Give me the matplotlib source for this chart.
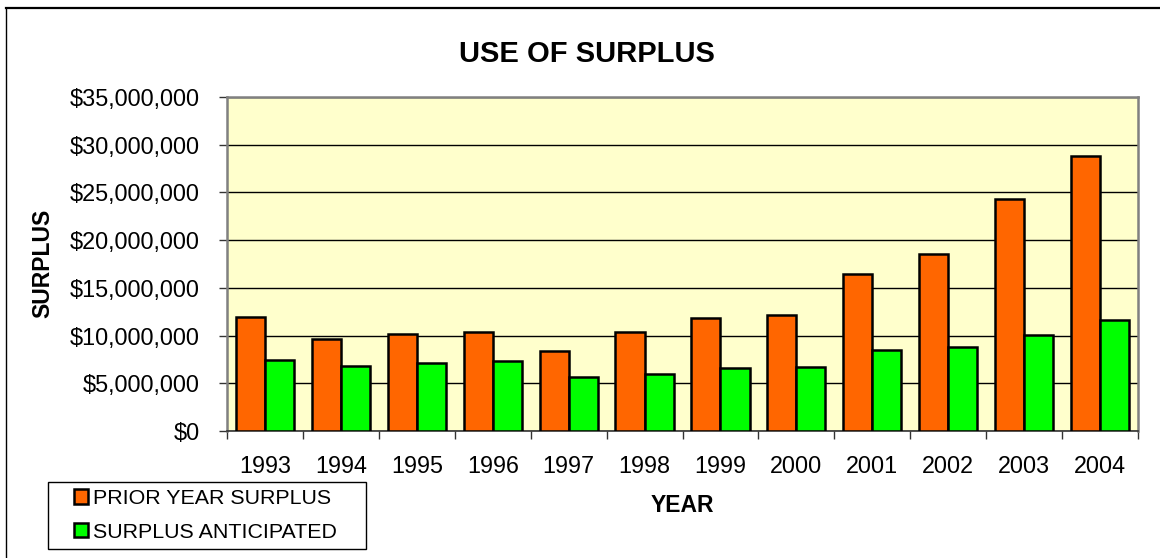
import matplotlib
matplotlib.use('Agg')
import matplotlib.pyplot as plt
from matplotlib.patches import Patch, Rectangle
from matplotlib.lines import Line2D
from matplotlib.ticker import FuncFormatter
import numpy as np

plt.rcParams['font.family'] = ['Liberation Sans', 'DejaVu Sans']

years = ['1993', '1994', '1995', '1996', '1997', '1998',
         '1999', '2000', '2001', '2002', '2003', '2004']
prior_year = [11.9e6, 9.63e6, 10.16e6, 10.4e6, 8.34e6, 10.33e6,
              11.8e6, 12.2e6, 16.4e6, 18.55e6, 24.3e6, 28.8e6]
anticipated = [7.47e6, 6.77e6, 7.15e6, 7.33e6, 5.65e6, 5.93e6,
               6.57e6, 6.75e6, 8.53e6, 8.78e6, 10.04e6, 11.58e6]
labels = ['PRIOR YEAR SURPLUS', 'SURPLUS ANTICIPATED']
colors = ['#FF6600', '#00FF00']

W, H = 1160, 558
fig = plt.figure(figsize=(11.6, 5.58), dpi=100)
ax = fig.add_axes([227 / W, 1 - 431 / H, (1138 - 227) / W, (431 - 97) / H])
ax.set_facecolor('#FFFFCC')

x = np.arange(len(years))
w = 0.383
ax.bar(x - w / 2, prior_year, w, color=colors[0], edgecolor='black', linewidth=1.8, zorder=3)
ax.bar(x + w / 2, anticipated, w, color=colors[1], edgecolor='black', linewidth=1.8, zorder=3)

ax.set_xlim(-0.5, len(years) - 0.5)
ax.set_ylim(0, 35e6)
ax.set_yticks(np.arange(0, 35e6 + 1, 5e6))
ax.yaxis.set_major_formatter(FuncFormatter(lambda v, p: '${:,.0f}'.format(v)))
ax.grid(axis='y', color='black', linewidth=1.0, zorder=1)

ax.set_xticks(x)
ax.set_xticklabels(years)
ax.set_xticks(np.arange(-0.5, len(years)), minor=True)
ax.tick_params(axis='x', which='major', length=0, pad=17.5, labelsize=16.8)
ax.tick_params(axis='x', which='minor', length=5.5, width=1, color='#333333')
ax.tick_params(axis='y', length=5.5, width=1, pad=14, labelsize=16.9, color='#333333')

for s in ['top', 'right', 'left']:
    ax.spines[s].set_color('#808080')
    ax.spines[s].set_linewidth(1.8)
ax.spines['bottom'].set_color('#333333')
ax.spines['bottom'].set_linewidth(1.2)

fig.text(586.5 / W, 1 - 54 / H, 'USE OF SURPLUS', ha='center', va='center',
         fontsize=21, fontweight='bold')
fig.text(682.5 / W, 1 - 506 / H, 'YEAR', ha='center', va='center',
         fontsize=16.5, fontweight='bold')
fig.text(43 / W, 1 - 263 / H, 'SURPLUS', ha='center', va='center',
         rotation=90, fontsize=16.5, fontweight='bold')

# chart border (only top and left edges visible)
fig.add_artist(Line2D([6 / W, 1], [1 - 7.5 / H, 1 - 7.5 / H], transform=fig.transFigure,
                      color='black', linewidth=1.6))
fig.add_artist(Line2D([6 / W, 6 / W], [0, 1 - 7.5 / H], transform=fig.transFigure,
                      color='black', linewidth=1.0))

# legend
handles = [Patch(facecolor=c, edgecolor='black', linewidth=1.8) for c in colors]
fig.add_artist(Rectangle((48 / W, 1 - 549 / H), (366 - 48) / W, (549 - 482) / H,
                         transform=fig.transFigure, facecolor='white',
                         edgecolor='black', linewidth=1.0))
leg = fig.legend(handles, labels, loc='upper left',
                 bbox_to_anchor=(74 / W, 1 - 489 / H), frameon=False,
                 fontsize=15.4, handlelength=0.66, handleheight=0.66,
                 handletextpad=0.25, labelspacing=0.68,
                 borderpad=0, borderaxespad=0)

fig.savefig('out.png', dpi=100)
